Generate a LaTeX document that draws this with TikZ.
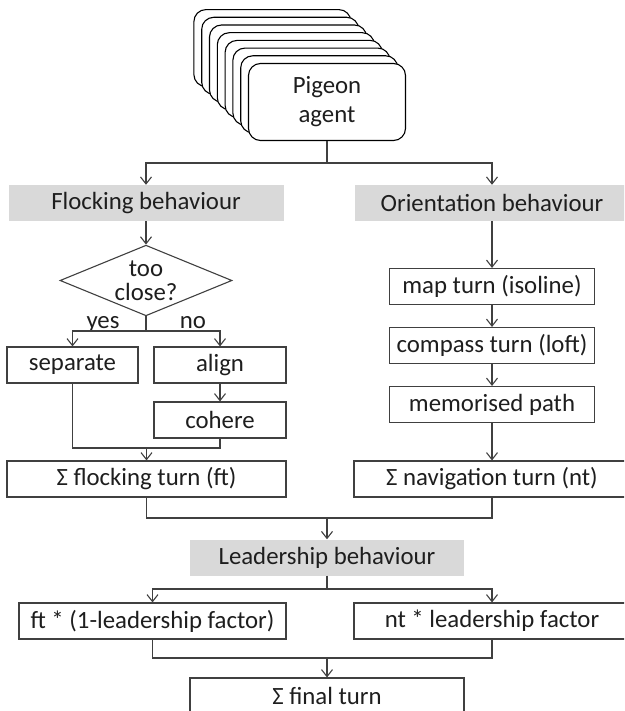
\documentclass[tikz,border=0pt]{standalone}
\usepackage{fontspec}
\setmainfont{Carlito}
\usepackage{tikz}
\usetikzlibrary{arrows.meta,positioning,shapes.geometric}
\definecolor{hdrgray}{RGB}{217,217,217}
\definecolor{linegray}{RGB}{64,64,64}
\definecolor{txtgray}{RGB}{30,30,30}
\tikzset{
    box/.style={rectangle, draw=linegray, fill=white, line width=1.1pt,
                minimum width=#1, minimum height=36pt, inner sep=0pt, align=center},
    hdr/.style={rectangle, fill=hdrgray, minimum width=#1, minimum height=36pt,
                inner sep=0pt, align=center},
    card/.style={rectangle, draw=black, fill=white, line width=1.1pt, rounded corners=12pt,
                 minimum width=157pt, minimum height=77pt, inner sep=0pt, align=center},
    dec/.style={diamond, draw=linegray, fill=white, line width=1.1pt,
                minimum width=172pt, minimum height=69pt, inner sep=-8pt, align=center},
    arr/.style={-{Straight Barb[length=7pt,width=11pt]}, line width=1.1pt, draw=linegray},
    con/.style={line width=1.1pt, draw=linegray},
    lbl/.style={inner sep=0pt, anchor=base},
}

\begin{document}
\begin{tikzpicture}[x=1pt, y=-1pt, text=txtgray,
                    font=\fontsize{24.8pt}{29pt}\selectfont]
    \useasboundingbox (0,0) rectangle (624,711);
    \clip (0,0) rectangle (624,711);

    % Agent stack
    \foreach \k in {7,...,1}
        \node[card] (card\k) at (327-7.8*\k, 102-7.7*\k) {};
    \node[card] (agent) at (327,102) {Pigeon\\agent};

    % Behaviour blocks
    \node[hdr=275pt]  (flock)   at (146,203)   {Flocking behaviour};
    \node[hdr=274pt]  (orient)  at (492,203)   {Orientation behaviour};
    \node[dec]        (close)   at (146,280.5) {too\\[-5pt]close?};
    \node[lbl]        (yes)     at (103,328)   {yes};
    \node[lbl]        (no)      at (193,328)   {no};
    \node[box=131pt]  (sep)     at (72.5,365)  {separate};
    \node[box=132pt]  (align)   at (220,365)   {align};
    \node[box=132pt]  (cohere)  at (220,420)   {cohere};
    \node[box=279pt]  (fturn)   at (146.5,479) {Σ flocking turn (ft)};
    \node[box=205pt]  (map)     at (492,286.5) {map turn (isoline)};
    \node[box=205pt]  (compass) at (492,345.5) {compass turn (loft)};
    \node[box=205pt]  (memo)    at (492,404.5) {memorised path};
    \node[box=276pt]  (nturn)   at (492,479)   {Σ navigation turn (nt)};
    \node[hdr=274pt]  (lead)    at (327,557.5) {Leadership behaviour};
    \node[box=267pt]  (ftl)     at (152.5,621) {ft * (1-leadership factor)};
    \node[box=276pt]  (ntl)     at (492,621)   {nt * leadership factor};
    \node[box=274pt]  (final)   at (327,696)   {Σ final turn};

    % Splits and merges
    \coordinate (split1) at (327,163);
    \coordinate (split2) at (146,331);
    \coordinate (merge1) at (146.5,448);
    \coordinate (merge2) at (327,518);
    \coordinate (split3) at (327,589);
    \coordinate (merge3) at (327,658);

    % Flocking branch
    \draw[con] (agent) -- (split1);
    \draw[arr] (split1) -| (flock);
    \draw[arr] (split1) -| (orient);
    \draw[arr] (flock) -- (close);
    \draw[con] (close) -- (split2);
    \draw[arr] (split2) -| (sep);
    \draw[arr] (split2) -| (align);
    \draw[arr] (align) -- (cohere);
    \draw[con] (sep) |- (merge1) -| (cohere);
    \draw[arr] (merge1) -- (fturn);

    % Orientation branch
    \draw[arr] (orient) -- (map);
    \draw[arr] (map) -- (compass);
    \draw[arr] (compass) -- (memo);
    \draw[arr] (memo) -- (nturn);

    % Leadership
    \draw[con] (fturn) |- (merge2) -| (nturn);
    \draw[arr] (merge2) -- (lead);
    \draw[con] (lead) -- (split3);
    \draw[arr] (split3) -| (ftl);
    \draw[arr] (split3) -| (ntl);
    \draw[con] (ftl) |- (merge3) -| (ntl);
    \draw[arr] (merge3) -- (final);
\end{tikzpicture}
\end{document}
